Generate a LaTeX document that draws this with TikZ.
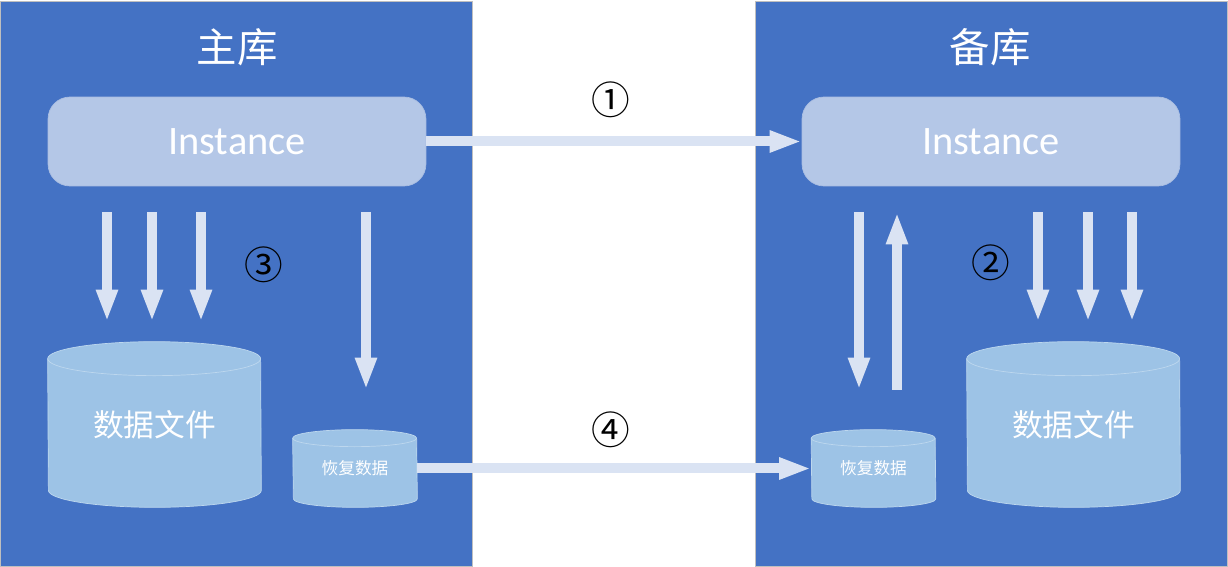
\documentclass[tikz,border=0pt]{standalone}
\usepackage{fontspec}
\setmainfont{Carlito}
\newfontfamily\cjk{Noto Sans CJK SC}
\usetikzlibrary{arrows.meta,positioning}
\definecolor{PanelBlue}{RGB}{68,114,196}
\definecolor{PanelEdge}{RGB}{191,191,191}
\definecolor{InstFill}{RGB}{180,199,231}
\definecolor{InstEdge}{RGB}{170,190,226}
\definecolor{FlowFill}{RGB}{218,227,243}
\definecolor{DiskFill}{RGB}{157,195,230}
\definecolor{DiskEdge}{RGB}{189,215,238}
\tikzset{
  panel/.style={draw=PanelEdge,fill=PanelBlue,inner sep=0pt,
    minimum width=9.44cm,minimum height=11.3cm},
  title/.style={text=white,font=\cjk\fontsize{23}{27}\selectfont},
  instance/.style={draw=InstEdge,fill=InstFill,rounded corners=0.44cm,
    minimum width=7.56cm,minimum height=1.78cm,text=white,
    font=\fontsize{23}{27}\selectfont},
  bigdisk/.style={minimum width=4.26cm,minimum height=3.3cm,text=white,
    font=\cjk\fontsize{17.5}{21}\selectfont},
  smalldisk/.style={minimum width=2.48cm,minimum height=1.54cm,text=white,
    font=\cjk\fontsize{9.5}{11}\selectfont},
  flow/.style={-{Triangle[width=0.4cm,length=0.64cm]},line width=0.2cm,FlowFill},
  marker/.style={font=\cjk\fontsize{22}{26}\selectfont}
}
% cylinder outline round a node: name, x radius, y radius
\newcommand\drawdisk[3]{%
  \filldraw[fill=DiskFill,draw=DiskEdge]
    ([yshift=-#3]#1.north west) arc[start angle=180,end angle=0,x radius=#2,y radius=#3]
    -- ([yshift=#3]#1.south east) arc[start angle=0,end angle=-180,x radius=#2,y radius=#3]
    -- cycle;
  \draw[DiskEdge] ([yshift=-#3]#1.north west)
    arc[start angle=180,end angle=360,x radius=#2,y radius=#3];
}

\begin{document}
\begin{tikzpicture}[x=0.02cm,y=-0.02cm]
  \useasboundingbox (0,0) rectangle (1228,567);
  \node[panel] (master) at (236,283.5) {};
  \node[panel] (standby) at (991.5,283.5) {};
  \node[title] (mtitle) at (237,47) {主库};
  \node[title] (stitle) at (990,47) {备库};

  \node[instance] (minst) at (237,141.5) {Instance};
  \node[instance] (sinst) at (991,141.5) {Instance};

  % data files and redo logs
  \node[bigdisk] (mdata) at (154.5,424.5) {};
  \node[bigdisk] (sdata) at (1073.5,424.5) {};
  \node[smalldisk] (mredo) at (355,468.5) {};
  \node[smalldisk] (sredo) at (873.5,468.5) {};
  \drawdisk{mdata}{2.13cm}{0.34cm}
  \drawdisk{sdata}{2.13cm}{0.34cm}
  \drawdisk{mredo}{1.24cm}{0.17cm}
  \drawdisk{sredo}{1.24cm}{0.17cm}
  \node[bigdisk] (mdatatext) at (mdata) {数据文件};
  \node[bigdisk] (sdatatext) at (sdata) {数据文件};
  \node[smalldisk] (mredotext) at (mredo) {恢复数据};
  \node[smalldisk] (sredotext) at (sredo) {恢复数据};

  \node[marker] (one) at (611,100) {①};
  \node[marker] (two) at (991,263) {②};
  \node[marker] (three) at (264,265) {③};
  \node[marker] (four) at (611,430) {④};

  \draw[flow] (minst) -- (sinst);
  \draw[flow] (mredo) -- (sredo);
  \foreach \x in {107,152,201}
    \draw[flow,shorten <=0.52cm,shorten >=0.4cm] (minst.south -| \x,0) -- (mdata.north -| \x,0);
  \draw[flow,shorten <=0.52cm,shorten >=0.8cm] (minst.south -| 366,0) -- (mredo.north -| 366,0);
  \foreach \x in {1038,1088,1132}
    \draw[flow,shorten <=0.52cm,shorten >=0.4cm] (sinst.south -| \x,0) -- (sdata.north -| \x,0);
  \draw[flow,shorten <=0.52cm,shorten >=0.8cm] (sinst.south -| 859,0) -- (sredo.north -| 859,0);
  \draw[flow,shorten <=0.8cm,shorten >=0.52cm] (sredo.north -| 897,0) -- (sinst.south -| 897,0);
\end{tikzpicture}
\end{document}
